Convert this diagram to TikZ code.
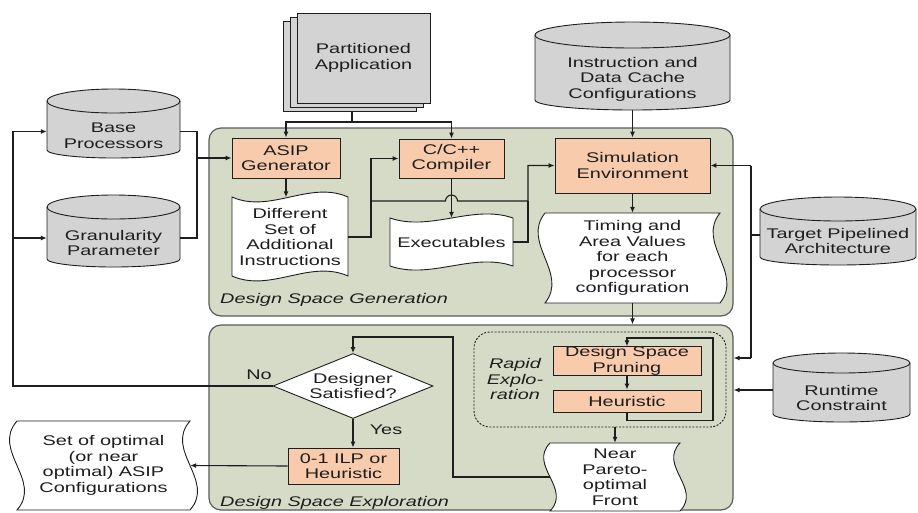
\documentclass[tikz,border=0pt]{standalone}
\usepackage{fontspec}
\setmainfont{Liberation Sans}[FakeStretch=1.42]
\usetikzlibrary{arrows.meta,calc,shapes.geometric}
\definecolor{panelg}{RGB}{214,219,200}
\definecolor{salmon}{RGB}{249,203,173}
\definecolor{cylg}{RGB}{211,211,211}
\definecolor{ink}{RGB}{30,30,30}
\definecolor{pborder}{RGB}{90,90,90}
\newcommand{\cylshape}[6]{%
 \pgfmathsetmacro{\cylrx}{(#3-#1)/2}%
 \draw[cyl] (#1,{-(#2+#5)}) -- (#1,{-(#4-#6)}) arc[start angle=180,end angle=360,x radius=\cylrx,y radius=#6] -- (#3,{-(#2+#5)}) arc[start angle=0,end angle=180,x radius=\cylrx,y radius=#5] -- cycle;
 \draw[cyl,fill=none] (#1,{-(#2+#5)}) arc[start angle=180,end angle=360,x radius=\cylrx,y radius=#5];
}
\newcommand{\docH}[5]{%
 \draw[docst] (#1,-#2) .. controls ({#1+0.33*(#3-#1)},{-#2-#5}) and ({#1+0.67*(#3-#1)},{-#2+#5}) .. (#3,-#2) -- (#3,-#4) .. controls ({#1+0.67*(#3-#1)},{-#4+#5}) and ({#1+0.33*(#3-#1)},{-#4-#5}) .. (#1,-#4) -- cycle;
}
\newcommand{\docV}[5]{%
 \draw[docst] (#1,-#2) -- (#3,-#2) .. controls ({#3-#5},{-#2-0.33*(#4-#2)}) and ({#3+#5},{-#2-0.67*(#4-#2)}) .. (#3,-#4) -- (#1,-#4) .. controls ({#1+#5},{-#2-0.67*(#4-#2)}) and ({#1-#5},{-#2-0.33*(#4-#2)}) .. (#1,-#2) -- cycle;
}
\begin{document}
\begin{tikzpicture}[x=1pt,y=1pt,
 font=\fontsize{14}{15.5}\selectfont,
 every node/.append style={text=ink},
 arr/.style={draw=ink, line width=1.1pt, -{Latex[length=6pt,width=5pt]}},
 ln/.style={draw=ink, line width=1.1pt},
 proc/.style={draw=ink, line width=0.9pt, fill=salmon, inner sep=0pt, align=center},
 box/.style={inner sep=0pt, align=center},
 ital/.style={font=\fontsize{14}{15.5}\selectfont\itshape},
 panel/.style={draw=pborder, line width=1.2pt, fill=panelg, rounded corners=12pt, inner sep=0pt},
 cyl/.style={draw=ink, line width=0.9pt, fill=cylg},
 docst/.style={draw=ink, line width=0.9pt, fill=white},
 sheet/.style={draw=ink, line width=0.9pt, fill=cylg, inner sep=0pt, align=center},
]
\useasboundingbox (0,0) rectangle (918,-512);

% panels
\node[panel, minimum width=524pt, minimum height=188pt] (dsg) at (471,-222) {};
\node[panel, minimum width=524pt, minimum height=185pt] (dse) at (471,-417.5) {};
\node[ital, box, anchor=west] (dsgl) at (220,-300) {Design Space Generation};
\node[ital, box, anchor=west] (dsel) at (220,-503) {Design Space Exploration};

% partitioned application stack
\node[sheet, minimum width=133pt, minimum height=90pt] (pa3) at (349.5,-66) {};
\node[sheet, minimum width=133pt, minimum height=90pt] (pa2) at (356.5,-62) {};
\node[sheet, minimum width=133pt, minimum height=90pt] (pa) at (363.5,-58) {Partitioned\\Application};

% cylinders
\cylshape{47}{89}{180}{158}{12}{8}
\node[box, minimum width=133pt, minimum height=45pt] (bp) at (113.5,-135.5) {Base\\Processors};
\cylshape{47}{195}{180}{267}{12}{8}
\node[box, minimum width=133pt, minimum height=48pt] (gp) at (113.5,-243) {Granularity\\Parameter};
\cylshape{535}{22}{730}{110}{13}{10}
\node[box, minimum width=195pt, minimum height=62pt] (ic) at (632.5,-79) {Instruction and\\Data Cache\\Configurations};
\cylshape{760}{197}{916}{265}{12}{8}
\node[box, minimum width=156pt, minimum height=44pt] (tp) at (838,-241) {Target Pipelined\\Architecture};
\cylshape{773}{353}{910}{422}{10}{8}
\node[box, minimum width=137pt, minimum height=49pt] (rt) at (841.5,-398) {Runtime\\Constraint};

% process boxes
\node[proc, minimum width=108pt, minimum height=40pt] (asip) at (286,-158) {ASIP\\Generator};
\node[proc, minimum width=105pt, minimum height=39pt] (cc) at (451.5,-158.5) {C/C++\\Compiler};
\node[proc, minimum width=155pt, minimum height=55pt] (sim) at (632.5,-165.5) {Simulation\\Environment};

% documents
\docH{232}{197}{348}{276}{17}
\node[box, minimum width=116pt, minimum height=79pt] (diff) at (290,-237) {Different\\Set of\\Additional\\Instructions};
\docH{390}{218}{513}{266}{14}
\node[box, minimum width=123pt, minimum height=48pt] (exe) at (451.5,-242) {Executables};
\docV{545}{213}{720}{303}{24}
\node[box, minimum width=175pt, minimum height=90pt] (tm) at (632.5,-258) {Timing and\\Area Values\\for each\\processor\\configuration};

% exploration
\node[draw=ink, line width=0.9pt, dash pattern=on 2pt off 1.5pt, rounded corners=16pt, minimum width=252pt, minimum height=95pt, inner sep=0pt] (rx) at (600,-379.5) {};
\node[ital, box] (rxl) at (515,-379) {Rapid\\Explo-\\ration};
\node[proc, minimum width=148pt, minimum height=28pt] (pr) at (627,-361) {Design Space\\Pruning};
\node[proc, minimum width=148pt, minimum height=22pt] (heu) at (627,-401) {Heuristic};
\docV{550}{443}{680}{511}{22}
\node[box, minimum width=130pt, minimum height=68pt] (np) at (615,-477) {Near\\Pareto-\\optimal\\Front};
\node[diamond, draw=ink, fill=white, line width=0.9pt, aspect=2.5, inner sep=0pt, minimum width=160pt, minimum height=65pt, align=center] (dia) at (353,-386) {Designer\\Satisfied?};
\node[proc, minimum width=111pt, minimum height=36pt] (ilp) at (343.5,-466) {0-1 ILP or\\Heuristic};
\docV{17}{421}{190}{510}{26}
\node[box, minimum width=173pt, minimum height=89pt] (so) at (103.5,-465.5) {Set of optimal\\(or near\\optimal) ASIP\\Configurations};

% connectors: top
\coordinate (sp) at (352,-122);
\draw[ln] (pa3.south -| sp) -- (sp);
\draw[arr] (sp) -| (asip.north);
\draw[arr] (sp) -| (cc.north);

\coordinate (j1) at (197,-158);
\coordinate (bpe) at ($(bp.east)+(0,4)$);
\coordinate (gpe) at ($(gp.east)+(0,5)$);
\draw[ln] (bpe) -| (j1) |- (gpe);
\draw[arr] (j1) -- (asip.west);

\draw[arr] (asip.south) -- (asip.south |- diff.north);
\coordinate (j2) at (371,-201);
\draw[arr] (diff.east) -| (j2) |- (cc.west);
\coordinate (j3) at (528,-201);
\draw[arr] (j2) -- ($(cc.south |- j2)+(-6,0)$) arc[start angle=180,end angle=0,radius=6] -- (j3) |- (sim.west);
\draw[ln] (exe.east) -| (j3);
\draw[arr] (cc.south) -- (cc.south |- exe.north);
\draw[arr] (ic.south) -- (sim.north);
\draw[arr] (sim.south) -- (tm.north);
\draw[arr] (tm.south) -- (tm.south |- dse.north);

% exploration connectors
\coordinate (lp) at (713,-338);
\draw[arr] (heu.south) -- ++(0,-8) -| (lp) -| (pr.north);
\draw[arr] (pr.south) -- (heu.north);
\draw[arr] (rx.south -| np.north) -- (np.north);
\coordinate (lp2) at (453,-337);
\draw[arr] (np.west) -| (lp2) -| (dia.north);

\coordinate (nl) at (13,-386);
\coordinate (bpw) at ($(bp.west)+(0,4)$);
\coordinate (gpw) at ($(gp.west)+(0,5)$);
\draw[arr] (dia.west) -- (nl) |- (bpw);
\draw[arr] (nl |- gpw) -- (gpw);
\node[box] (nolbl) at (259,-375) {No};
\draw[arr] (dia.south) -- (dia.south |- ilp.north);
\node[box] (yeslbl) at (386,-430) {Yes};
\draw[arr] (ilp.west) -- (so.east);

% right side inputs
\coordinate (tpw) at ($(tp.west)+(0,6)$);
\coordinate (tv) at (751,-358);
\draw[ln] (tpw) -- (tpw -| tv);
\draw[arr] (tv |- sim.east) -- (sim.east);
\draw[ln] (tv |- sim.east) -- (tv);
\draw[arr] (tv) -- (tv -| dse.east);
\coordinate (rtw) at ($(rt.west)+(0,8)$);
\draw[arr] (rtw) -- (rtw -| dse.east);
\end{tikzpicture}
\end{document}
